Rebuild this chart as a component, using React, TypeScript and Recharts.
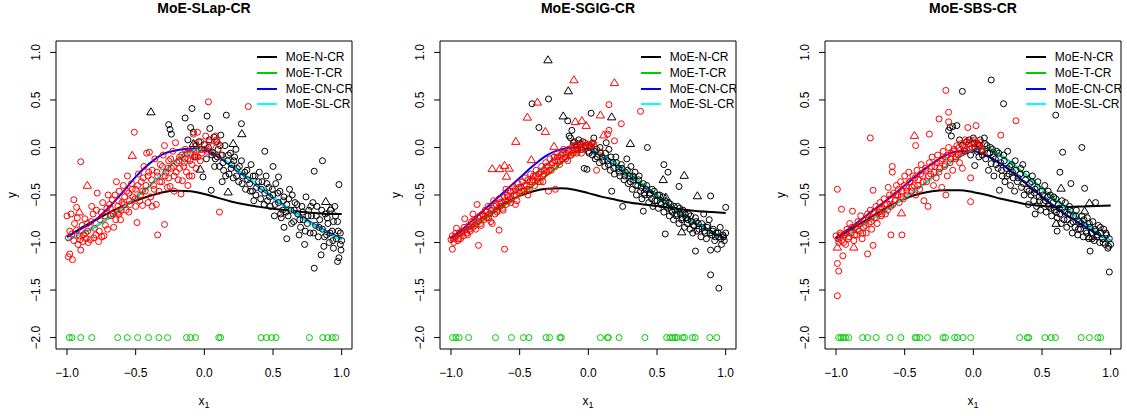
import React from 'react';
import { ComposedChart, Scatter, Line, XAxis, YAxis, ReferenceArea } from 'recharts';

type Pt = [number, number];

const X_TICKS = [-1, -0.5, 0, 0.5, 1];
const Y_TICKS = [1, 0.5, 0, -0.5, -1, -1.5, -2];
const X_GRID = [-1, -0.9, -0.8, -0.7, -0.6, -0.5, -0.4, -0.3, -0.2, -0.1, 0, 0.1, 0.2, 0.3, 0.4, 0.5, 0.6, 0.7, 0.8, 0.9, 1];
const MODELS = ['MoE-N-CR', 'MoE-T-CR', 'MoE-CN-CR', 'MoE-SL-CR'];
const MODEL_COLORS = ['#000000', '#00CD00', '#0000FF', '#00FFFF'];
const TITLES = ['MoE-SLap-CR', 'MoE-SGIG-CR', 'MoE-SBS-CR'];

// ---- panel 1: MoE-SLap-CR ----
const SLAP_N = [-0.94, -0.85, -0.77, -0.69, -0.62, -0.56, -0.51, -0.47, -0.455, -0.46, -0.49, -0.53, -0.57, -0.6, -0.625, -0.645, -0.66, -0.675, -0.69, -0.7, -0.7];
const SLAP_T = [-0.98, -0.91, -0.84, -0.75, -0.65, -0.53, -0.41, -0.27, -0.13, -0.03, -0.01, -0.08, -0.19, -0.3, -0.41, -0.52, -0.63, -0.73, -0.82, -0.9, -0.97];
const SLAP_CN = [-0.94, -0.86, -0.77, -0.64, -0.48, -0.31, -0.17, -0.07, -0.03, -0.01, -0.03, -0.1, -0.2, -0.31, -0.42, -0.53, -0.63, -0.72, -0.81, -0.89, -0.96];
const SLAP_SL = [-0.98, -0.91, -0.83, -0.74, -0.64, -0.52, -0.4, -0.27, -0.14, -0.04, -0.01, -0.08, -0.19, -0.3, -0.41, -0.52, -0.63, -0.73, -0.82, -0.9, -0.97];
const SLAP_RED: Pt[] = [[-1,-0.72],[-0.99,-0.95],[-0.98,-0.88],[-0.98,-1.12],[-0.99,-1.15],[-0.96,-1.18],[-0.97,-0.7],[-0.95,-0.55],[-0.95,-0.98],[-0.93,-0.63],[-0.93,-0.87],[-0.92,-1.02],[-0.91,-0.93],[-0.9,-1.08],[-0.9,-0.15],[-0.89,-0.82],[-0.88,-0.92],[-0.87,-0.75],[-0.86,-0.96],[-0.85,-0.88],[-0.83,-0.97],[-0.82,-0.62],[-0.8,-0.85],[-0.79,-0.92],[-0.78,-0.48],[-0.77,-0.99],[-0.76,-0.76],[-0.75,-0.68],[-0.74,-0.58],[-0.72,-0.82],[-0.71,-0.64],[-0.7,-0.5],[-0.68,-0.72],[-0.67,-0.55],[-0.66,-0.84],[-0.64,-0.36],[-0.63,-0.62],[-0.62,-0.46],[-0.61,-0.76],[-0.6,-0.58],[-0.59,-0.4],[-0.58,-0.52],[-0.57,-0.66],[-0.56,-0.3],[-0.55,-0.48],[-0.54,-0.6],[-0.53,-0.38],[-0.52,-0.52],[-0.51,0.16],[-0.5,-0.44],[-0.49,-0.79],[-0.48,-0.28],[-0.47,-0.56],[-0.46,-0.36],[-0.45,-0.61],[-0.44,-0.2],[-0.43,-0.46],[-0.42,-0.06],[-0.41,-0.3],[-0.4,-0.05],[-0.39,-0.52],[-0.38,-0.24],[-0.37,-0.4],[-0.36,-0.12],[-0.35,-0.6],[-0.34,-0.92],[-0.34,-0.3],[-0.33,-0.46],[-0.32,-0.18],[-0.31,-0.36],[-0.3,-0.08],[-0.29,-0.81],[-0.29,0.02],[-0.28,-0.26],[-0.27,-0.42],[-0.26,-0.14],[-0.25,-0.41],[-0.24,-0.22],[-0.23,-0.04],[-0.22,-0.3],[-0.21,0.05],[-0.2,-0.16],[-0.19,-0.34],[-0.18,-0.1],[-0.17,-0.49],[-0.16,-0.35],[-0.15,-0.2],[-0.14,-0.02],[-0.13,-0.26],[-0.12,-0.12],[-0.11,-0.3],[-0.1,-0.06],[-0.09,-0.18],[-0.08,0.14],[-0.07,-0.08],[-0.06,-0.22],[-0.05,0.16],[-0.04,-0.02],[-0.03,-0.14],[-0.02,-0.06],[0.01,0.12],[0.02,-0.04],[0.03,0.48],[0.05,0.02],[0.08,0.12],[0.1,0.04],[0.11,-0.68],[0.12,-0.08],[0.32,0.43],[-0.85,-0.8],[-0.81,-0.7],[-0.73,-0.93],[-0.69,-0.6],[-0.65,-0.5],[-0.45,-0.46],[-0.5,-0.62],[-0.55,-0.68],[-0.62,-0.7],[-0.41,-0.58],[-0.38,-0.62],[-0.26,-0.32],[-0.22,-0.46],[-0.18,-0.22],[-0.14,-0.12],[-0.09,-0.3],[-0.06,-0.1],[-0.12,-0.4],
  [-0.965,-0.91],[-0.945,-0.8],[-0.925,-0.74],[-0.905,-0.97],[-0.885,-0.99],[-0.865,-0.9],[-0.845,-1.0],[-0.825,-0.78],[-0.805,-0.95],[-0.785,-0.66],[-0.765,-0.88],[-0.745,-0.94],[-0.725,-0.72],[-0.705,-0.86],[-0.685,-0.64],[-0.665,-0.7],[-0.645,-0.76],[-0.625,-0.56],[-0.605,-0.66],[-0.585,-0.6],[-0.565,-0.46],[-0.545,-0.56],[-0.525,-0.44],[-0.505,-0.54],[-0.485,-0.4],[-0.465,-0.5],[-0.445,-0.32],[-0.425,-0.4],[-0.405,-0.26],[-0.385,-0.34],[-0.365,-0.44],[-0.345,-0.26],[-0.325,-0.36],[-0.305,-0.2],[-0.285,-0.3],[-0.265,-0.22],[-0.245,-0.12],[-0.225,-0.2],[-0.205,-0.26],[-0.185,-0.14],[-0.165,-0.08],[-0.145,-0.16],[-0.125,-0.06],[-0.105,-0.14],[-0.085,-0.02],[-0.065,0.04],[-0.045,-0.1],[-0.025,0.06],[0.005,-0.02],[0.035,0.06],[0.065,-0.06],[0.09,0.08]];
const SLAP_BLACK: Pt[] = [[-0.26,0.24],[-0.25,0.19],[-0.24,0.14],[-0.14,0.31],[-0.09,0.41],[-0.12,0.08],[-0.1,0.21],[-0.08,0.16],[-0.06,0.02],[-0.04,0.06],[-0.02,-0.02],[0,0.03],[0.02,0.33],[0.03,0],[0.04,0.2],[0.05,-0.45],[-0.01,-0.31],[0.06,-0.05],[0.07,0.11],[0.08,-0.12],[0.09,0.06],[0.1,-0.02],[0.11,-0.2],[0.12,0.13],[0.13,-0.08],[0.14,-0.24],[0.16,0.34],[0.15,0.02],[0.17,-0.14],[0.18,-0.28],[0.19,-0.06],[0.2,-0.18],[0.21,-0.32],[0.22,-0.1],[0.24,-0.22],[0.25,-0.36],[0.27,0.25],[0.27,-0.14],[0.28,-0.3],[0.3,-0.44],[0.31,-0.24],[0.33,-0.38],[0.34,-0.18],[0.35,-0.46],[0.37,-0.3],[0.38,-0.42],[0.4,-0.26],[0.41,-0.54],[0.42,-0.36],[0.44,-0.04],[0.44,-0.48],[0.45,-0.3],[0.47,-0.42],[0.48,-0.62],[0.5,-0.2],[0.5,-0.5],[0.51,-0.72],[0.52,-0.38],[0.54,-0.31],[0.54,-0.58],[0.55,-0.46],[0.57,-0.66],[0.58,-0.84],[0.58,-0.52],[0.6,-0.96],[0.6,-0.6],[0.61,-0.72],[0.62,-0.44],[0.63,-0.66],[0.65,-0.78],[0.66,-0.58],[0.68,-0.7],[0.7,-0.84],[0.71,-0.62],[0.72,-0.76],[0.73,-1.02],[0.74,-0.52],[0.75,-0.8],[0.76,-0.66],[0.77,-0.9],[0.78,-0.72],[0.8,-1.27],[0.8,-0.25],[0.81,-0.82],[0.82,-0.62],[0.83,-0.94],[0.84,-0.76],[0.85,-1.13],[0.86,-0.14],[0.86,-0.86],[0.87,-1.04],[0.88,-0.7],[0.89,-0.92],[0.9,-0.8],[0.91,-1],[0.92,-0.66],[0.93,-0.88],[0.94,-1.06],[0.95,-0.62],[0.96,-0.96],[0.97,-1.2],[0.97,-0.78],[0.98,-0.39],[0.98,-1.16],[0.99,-1.02],[0.99,-0.9],[1,-0.98],[-0.07,-0.1],[0.13,-0.36],[0.23,-0.02],[0.36,-0.56],[0.46,-0.56],[0.56,-0.74],[0.64,-0.5],[0.69,-0.92],[0.79,-0.58],[0.94,-0.78],
  [0.015,-0.12],[0.035,0.08],[0.055,-0.08],[0.075,-0.2],[0.095,-0.1],[0.115,0.02],[0.135,-0.16],[0.155,-0.3],[0.175,-0.08],[0.195,-0.22],[0.215,-0.14],[0.235,-0.3],[0.255,-0.2],[0.275,-0.38],[0.295,-0.26],[0.315,-0.34],[0.335,-0.46],[0.355,-0.3],[0.375,-0.5],[0.395,-0.36],[0.415,-0.44],[0.435,-0.6],[0.455,-0.38],[0.475,-0.52],[0.495,-0.44],[0.515,-0.6],[0.535,-0.48],[0.555,-0.7],[0.575,-0.56],[0.595,-0.68],[0.615,-0.54],[0.635,-0.8],[0.655,-0.66],[0.675,-0.6],[0.695,-0.76],[0.715,-0.68],[0.735,-0.88],[0.755,-0.72],[0.775,-0.62],[0.795,-0.9],[0.815,-0.72],[0.835,-0.84],[0.855,-0.66],[0.875,-0.94],[0.895,-0.74],[0.915,-0.9],[0.935,-0.98],[0.955,-0.72],[0.975,-0.88],[0.995,-1.08]];
const SLAP_RED_TRI: Pt[] = [[-0.525,-0.085],[-0.852,-0.4],[-0.91,-0.68],[-0.634,-0.68]];
const SLAP_BLACK_TRI: Pt[] = [[-0.389,0.373],[0.273,0.143],[0.21,0.04],[-0.08,0.04],[-0.03,-0.23],[0.173,-0.47],[0.884,-0.57],[0.92,-0.64]];
const SLAP_GREEN = [-0.983, -0.964, -0.9, -0.82, -0.631, -0.561, -0.486, -0.406, -0.331, -0.268, -0.13, -0.1, -0.064, 0.105, 0.118, 0.413, 0.452, 0.489, 0.522, 0.765, 0.862, 0.898, 0.932, 0.956];

// ---- panel 2: MoE-SGIG-CR ----
const SGIG_N = [-0.96, -0.87, -0.77, -0.67, -0.58, -0.51, -0.46, -0.435, -0.43, -0.445, -0.48, -0.52, -0.55, -0.58, -0.6, -0.615, -0.635, -0.655, -0.67, -0.68, -0.69];
const SGIG_T = [-0.99, -0.89, -0.8, -0.7, -0.6, -0.5, -0.4, -0.29, -0.17, -0.05, -0.01, -0.07, -0.17, -0.28, -0.39, -0.5, -0.61, -0.71, -0.81, -0.89, -0.97];
const SGIG_CN = [-0.96, -0.84, -0.71, -0.58, -0.45, -0.32, -0.19, -0.08, -0.02, 0, -0.02, -0.09, -0.19, -0.3, -0.41, -0.52, -0.62, -0.72, -0.81, -0.89, -0.96];
const SGIG_SL = [-0.98, -0.88, -0.77, -0.66, -0.54, -0.42, -0.29, -0.17, -0.07, -0.01, -0.01, -0.08, -0.18, -0.29, -0.4, -0.51, -0.62, -0.72, -0.81, -0.89, -0.97];
const SGIG_RED: Pt[] = [[-1,-0.97],[-0.99,-1.07],[-0.99,-0.93],[-0.98,-1],[-0.97,-0.94],[-0.96,-0.85],[-0.95,-0.98],[-0.94,-0.9],[-0.93,-0.96],[-0.92,-0.88],[-0.91,-0.93],[-0.9,-0.75],[-0.89,-0.86],[-0.88,-0.92],[-0.87,-0.82],[-0.86,-0.88],[-0.85,-0.78],[-0.84,-0.84],[-0.83,-0.76],[-0.82,-0.86],[-0.81,-0.6],[-0.8,-1.03],[-0.8,-0.78],[-0.79,-0.72],[-0.78,-0.82],[-0.77,-0.7],[-0.76,-0.76],[-0.75,-0.66],[-0.74,-0.74],[-0.73,-0.62],[-0.72,-0.7],[-0.71,-0.78],[-0.7,-0.64],[-0.69,-0.56],[-0.68,-0.7],[-0.67,-0.6],[-0.66,-0.66],[-0.65,-0.87],[-0.65,-0.54],[-0.64,-0.62],[-0.63,-0.58],[-0.62,-0.66],[-0.61,-1.07],[-0.61,-0.52],[-0.6,-0.44],[-0.6,-0.6],[-0.59,-0.5],[-0.58,-0.56],[-0.57,-0.46],[-0.56,-0.54],[-0.55,-0.42],[-0.54,-0.5],[-0.53,-0.44],[-0.52,-0.56],[-0.51,-0.38],[-0.5,-0.48],[-0.49,-0.42],[-0.48,-0.36],[-0.47,-0.46],[-0.46,-0.32],[-0.45,-0.4],[-0.44,-0.34],[-0.43,-0.44],[-0.42,-0.28],[-0.41,-0.36],[-0.4,-0.3],[-0.39,-0.4],[-0.38,-0.24],[-0.37,-0.32],[-0.36,-0.28],[-0.35,-0.36],[-0.34,-0.2],[-0.33,-0.3],[-0.32,-0.24],[-0.31,-0.16],[-0.3,-0.26],[-0.29,-0.46],[-0.29,-0.2],[-0.28,-0.12],[-0.27,-0.24],[-0.26,-0.16],[-0.25,-0.1],[-0.24,-0.2],[-0.23,-0.06],[-0.22,-0.14],[-0.21,-0.18],[-0.2,-0.08],[-0.19,-0.12],[-0.18,-0.02],[-0.17,-0.1],[-0.16,-0.06],[-0.15,-0.14],[-0.14,-0.04],[-0.13,-0.08],[-0.12,0],[-0.11,-0.06],[-0.1,-0.02],[-0.09,0.02],[-0.08,-0.04],[-0.06,0],[-0.05,-0.06],[-0.04,0.03],[-0.02,0],[0,0.03],[0.02,0.02],[0.04,0.04],[0.06,-0.24],[0.09,-0.05],[0.14,0.14],[0.15,0.18],[0.15,0.45],[0.19,0.07],[0.24,0.25],[0.38,0.38],[-0.24,-0.44],[-0.33,-0.36],[-0.44,-0.5],[-0.53,-0.6],[-0.7,-0.8],[-0.84,-0.7],
  [-0.985,-0.96],[-0.965,-0.9],[-0.945,-0.96],[-0.925,-0.9],[-0.905,-0.84],[-0.885,-0.9],[-0.865,-0.86],[-0.845,-0.8],[-0.825,-0.82],[-0.805,-0.74],[-0.785,-0.8],[-0.765,-0.72],[-0.745,-0.68],[-0.725,-0.74],[-0.705,-0.66],[-0.685,-0.62],[-0.665,-0.68],[-0.645,-0.58],[-0.625,-0.64],[-0.605,-0.56],[-0.585,-0.52],[-0.565,-0.58],[-0.545,-0.46],[-0.525,-0.5],[-0.505,-0.42],[-0.485,-0.46],[-0.465,-0.4],[-0.445,-0.44],[-0.425,-0.36],[-0.405,-0.34],[-0.385,-0.3],[-0.365,-0.36],[-0.345,-0.26],[-0.325,-0.28],[-0.305,-0.2],[-0.285,-0.24],[-0.265,-0.18],[-0.245,-0.14],[-0.225,-0.1],[-0.205,-0.14],[-0.185,-0.06],[-0.165,-0.12],[-0.145,-0.02],[-0.125,-0.08],[-0.105,0.02],[-0.085,-0.06],[-0.065,0.04],[-0.045,-0.02],[-0.025,0.05],[0.01,0],[0.03,0.05]];
const SGIG_BLACK: Pt[] = [[-0.41,0.46],[-0.29,0.51],[-0.36,0.21],[-0.15,0.28],[-0.14,0.12],[-0.13,0.1],[-0.12,0.18],[-0.11,0.05],[-0.09,0.02],[-0.07,0.08],[-0.05,-0.02],[-0.04,0.06],[-0.03,-0.22],[-0.01,-0.23],[0,-0.04],[0.01,0.02],[0.02,0.36],[0.03,-0.08],[0.04,0.1],[0.05,-0.12],[0.06,-0.02],[0.08,-0.16],[0.09,-0.06],[0.1,-0.1],[0.12,-0.2],[0.13,0.05],[0.14,-0.14],[0.15,-0.02],[0.16,-0.24],[0.17,-0.46],[0.18,-0.16],[0.19,-0.28],[0.2,-0.1],[0.22,-0.22],[0.23,-0.3],[0.24,-0.18],[0.25,-0.62],[0.26,-0.34],[0.27,-0.26],[0.28,-0.12],[0.29,-0.38],[0.3,-0.3],[0.31,-0.2],[0.32,-0.44],[0.33,-0.34],[0.34,-0.26],[0.35,-0.5],[0.36,-0.4],[0.37,-0.3],[0.38,-0.46],[0.39,-0.54],[0.4,-0.67],[0.4,-0.38],[0.41,-0.5],[0.42,-0.44],[0.43,0],[0.44,-0.58],[0.45,-0.48],[0.46,-0.54],[0.47,-0.62],[0.48,-0.46],[0.5,-0.56],[0.51,-0.64],[0.52,-0.5],[0.53,-0.6],[0.55,-0.18],[0.55,-0.68],[0.56,-0.91],[0.56,-0.56],[0.58,-0.26],[0.58,-0.64],[0.59,-0.72],[0.6,-0.6],[0.61,-0.68],[0.62,-0.76],[0.63,-0.66],[0.64,-0.72],[0.65,-0.62],[0.66,-0.41],[0.66,-0.8],[0.67,-0.7],[0.68,-0.76],[0.69,-0.66],[0.7,-0.84],[0.71,-0.74],[0.72,-0.8],[0.73,-0.7],[0.74,-0.86],[0.75,-0.78],[0.76,-0.9],[0.77,-0.82],[0.78,-1.09],[0.78,-0.74],[0.79,-0.88],[0.8,-0.8],[0.82,-0.94],[0.83,-0.84],[0.84,-0.7],[0.85,-0.9],[0.86,-0.96],[0.87,-0.82],[0.88,-0.76],[0.89,-0.51],[0.89,-1.08],[0.89,-1.34],[0.9,-0.92],[0.91,-0.86],[0.92,-0.98],[0.93,-0.9],[0.94,-1.07],[0.95,-1.48],[0.95,-0.94],[0.96,-0.84],[0.97,-1.02],[0.98,-0.92],[0.99,-0.98],[1,-0.63],[1,-0.9],
  [-0.1,0.06],[-0.08,-0.02],[-0.06,0.04],[-0.02,0.02],[0.005,-0.06],[0.025,0.04],[0.045,-0.04],[0.065,-0.1],[0.085,0],[0.105,-0.14],[0.125,-0.06],[0.145,-0.18],[0.165,-0.1],[0.185,-0.22],[0.205,-0.16],[0.225,-0.26],[0.245,-0.22],[0.265,-0.3],[0.285,-0.24],[0.305,-0.36],[0.325,-0.3],[0.345,-0.4],[0.365,-0.34],[0.385,-0.42],[0.405,-0.48],[0.425,-0.4],[0.445,-0.5],[0.465,-0.44],[0.485,-0.56],[0.505,-0.5],[0.525,-0.58],[0.545,-0.52],[0.565,-0.62],[0.585,-0.58],[0.605,-0.66],[0.625,-0.62],[0.645,-0.7],[0.665,-0.64],[0.685,-0.74],[0.705,-0.7],[0.725,-0.76],[0.745,-0.72],[0.765,-0.82],[0.785,-0.78],[0.805,-0.86],[0.825,-0.8],[0.845,-0.88],[0.865,-0.84],[0.885,-0.9],[0.905,-0.88],[0.925,-0.94],[0.945,-0.9],[0.965,-0.96],[0.985,-0.94]];
const SGIG_RED_TRI: Pt[] = [[-0.105,0.71],[0.19,0.68],[-0.371,0.475],[-0.444,0.317],[-0.313,0.167],[-0.528,0.062],[-0.415,-0.13],[-0.25,0.01],[-0.7,-0.225],[-0.645,-0.225],[-0.61,-0.19],[-0.577,-0.22],[-0.596,-0.305],[-0.095,0.27],[-0.047,0.28],[-0.016,0.23],[0.088,0.34],[0.112,0.13]];
const SGIG_BLACK_TRI: Pt[] = [[-0.294,0.92],[-0.146,0.594],[-0.183,0.33],[0.17,0.32],[0.306,0.04],[0.698,-0.295],[0.545,-0.34],[0.794,-0.51],[0.68,-0.89],[0.565,-0.525]];
const SGIG_GREEN = [-0.988, -0.964, -0.94, -0.872, -0.676, -0.56, -0.473, -0.432, -0.308, -0.282, -0.207, -0.197, 0.088, 0.139, 0.146, 0.224, 0.412, 0.57, 0.594, 0.613, 0.63, 0.647, 0.686, 0.7, 0.758, 0.778, 0.884, 0.935];

// ---- panel 3: MoE-SBS-CR ----
const SBS_N = [-0.96, -0.87, -0.78, -0.69, -0.61, -0.54, -0.49, -0.46, -0.45, -0.45, -0.47, -0.5, -0.54, -0.57, -0.6, -0.615, -0.625, -0.625, -0.62, -0.615, -0.61];
const SBS_T = [-0.99, -0.9, -0.81, -0.72, -0.63, -0.53, -0.43, -0.32, -0.2, -0.09, -0.02, -0.01, -0.08, -0.19, -0.31, -0.43, -0.55, -0.67, -0.78, -0.89, -0.99];
const SBS_CN = [-0.95, -0.85, -0.74, -0.63, -0.52, -0.4, -0.28, -0.17, -0.08, -0.04, -0.04, -0.09, -0.17, -0.28, -0.4, -0.52, -0.63, -0.73, -0.82, -0.91, -0.98];
const SBS_SL = [-0.99, -0.9, -0.81, -0.72, -0.63, -0.53, -0.43, -0.32, -0.2, -0.1, -0.03, -0.02, -0.09, -0.2, -0.32, -0.44, -0.56, -0.67, -0.78, -0.89, -0.99];
const SBS_RED: Pt[] = [[-1,-0.93],[-0.99,-0.44],[-0.99,-1.22],[-0.98,-1.3],[-0.99,-1.56],[-0.98,-1],[-0.97,-0.9],[-0.96,-0.65],[-0.96,-0.98],[-0.95,-1.14],[-0.94,-0.92],[-0.93,-1.02],[-0.92,-0.86],[-0.91,-0.96],[-0.9,-0.8],[-0.89,-0.9],[-0.88,-0.67],[-0.87,-0.98],[-0.86,-0.84],[-0.85,-0.92],[-0.84,-0.78],[-0.83,-0.88],[-0.82,-0.72],[-0.81,-0.96],[-0.8,-0.84],[-0.79,-0.76],[-0.78,-0.9],[-0.77,-1.12],[-0.77,-0.7],[-0.76,-0.8],[-0.75,0.1],[-0.75,-0.66],[-0.74,-0.86],[-0.73,-0.45],[-0.73,-1.03],[-0.72,-0.74],[-0.71,-0.62],[-0.7,-0.8],[-0.69,-0.68],[-0.68,-0.58],[-0.67,-0.72],[-0.66,-0.64],[-0.65,-0.54],[-0.64,-0.7],[-0.63,-0.6],[-0.62,-0.42],[-0.61,-0.5],[-0.6,-0.92],[-0.6,-0.62],[-0.59,-0.2],[-0.59,-0.26],[-0.58,-0.48],[-0.57,-0.56],[-0.56,-0.4],[-0.55,-0.5],[-0.54,-0.58],[-0.53,-0.36],[-0.52,-0.92],[-0.52,-0.46],[-0.51,-0.54],[-0.5,-0.3],[-0.49,-0.42],[-0.48,-0.5],[-0.47,-0.26],[-0.46,-0.36],[-0.45,-0.46],[-0.44,-0.3],[-0.43,-0.4],[-0.42,0.02],[-0.42,-0.5],[-0.41,-0.24],[-0.4,-0.34],[-0.39,-0.44],[-0.38,-0.18],[-0.37,-0.3],[-0.36,-0.56],[-0.35,-0.22],[-0.34,-0.36],[-0.33,-0.62],[-0.32,0.14],[-0.32,-0.16],[-0.31,-0.28],[-0.3,-0.1],[-0.29,-0.4],[-0.28,-0.2],[-0.27,-0.32],[-0.26,-0.08],[-0.25,0.3],[-0.25,-0.26],[-0.24,-0.14],[-0.23,-0.42],[-0.22,-0.04],[-0.21,-0.2],[-0.2,0.6],[-0.2,-0.5],[-0.2,-0.1],[-0.19,-0.3],[-0.18,0.37],[-0.18,0.27],[-0.18,0],[-0.17,-0.16],[-0.16,-0.06],[-0.15,-0.24],[-0.14,-0.02],[-0.13,-0.12],[-0.12,0.02],[-0.11,-0.08],[-0.1,-0.16],[-0.09,0.04],[-0.08,-0.22],[-0.07,-0.04],[-0.06,0.08],[-0.05,-0.02],[-0.04,0.21],[-0.03,0.04],[-0.02,-0.57],[-0.02,-0.32],[-0.01,0],[0,0.06],[0.02,0.23],[0.03,0.02],[0.05,0.05],[0.07,-0.04],[0.2,0.13],[0.31,0.28],
  [-0.985,-0.96],[-0.965,-0.92],[-0.945,-1.0],[-0.925,-0.9],[-0.905,-0.94],[-0.885,-0.84],[-0.865,-0.92],[-0.845,-0.86],[-0.825,-0.8],[-0.805,-0.9],[-0.785,-0.82],[-0.765,-0.74],[-0.745,-0.78],[-0.725,-0.68],[-0.705,-0.74],[-0.685,-0.64],[-0.665,-0.7],[-0.645,-0.6],[-0.625,-0.66],[-0.605,-0.54],[-0.585,-0.6],[-0.565,-0.5],[-0.545,-0.44],[-0.525,-0.52],[-0.505,-0.4],[-0.485,-0.46],[-0.465,-0.36],[-0.445,-0.42],[-0.425,-0.32],[-0.405,-0.4],[-0.385,-0.28],[-0.365,-0.36],[-0.345,-0.24],[-0.325,-0.3],[-0.305,-0.2],[-0.285,-0.26],[-0.265,-0.16],[-0.245,-0.22],[-0.225,-0.12],[-0.205,-0.18],[-0.185,-0.08],[-0.165,-0.12],[-0.145,-0.04],[-0.125,-0.1],[-0.105,0],[-0.085,-0.06],[-0.065,0.02],[-0.045,0.06],[-0.025,-0.02],[0.01,0.08],[0.04,0.02],[0.06,-0.02]];
const SBS_BLACK: Pt[] = [[-0.18,0.18],[-0.17,0.21],[-0.16,0.12],[-0.15,0.22],[-0.12,0.23],[-0.1,0.08],[-0.08,0.59],[-0.08,0.02],[-0.06,-0.04],[-0.05,0.06],[-0.03,0.08],[-0.02,-0.08],[0,0.1],[0.01,-0.19],[0.01,0],[0.03,0.04],[0.04,-0.1],[0.05,0.08],[0.06,-0.04],[0.08,0.1],[0.09,-0.12],[0.1,0.02],[0.11,-0.24],[0.12,-0.06],[0.13,0.71],[0.13,-0.17],[0.14,-0.02],[0.15,-0.3],[0.16,-0.12],[0.17,-0.04],[0.18,-0.22],[0.19,-0.45],[0.2,-0.16],[0.21,-0.3],[0.22,0.46],[0.22,-0.08],[0.23,-0.36],[0.24,-0.22],[0.25,-0.04],[0.26,-0.28],[0.27,-0.4],[0.28,-0.18],[0.29,-0.32],[0.3,-0.46],[0.31,-0.24],[0.32,-0.36],[0.34,-0.28],[0.35,-0.42],[0.36,-0.18],[0.37,-0.5],[0.38,-0.34],[0.39,-0.44],[0.4,-0.6],[0.41,-0.38],[0.42,-0.5],[0.43,-0.3],[0.44,-0.56],[0.45,-0.7],[0.45,-0.44],[0.46,-0.62],[0.47,-0.36],[0.48,-0.52],[0.49,-0.66],[0.5,-0.46],[0.51,-0.58],[0.52,-0.4],[0.53,-0.68],[0.54,-0.52],[0.55,-0.62],[0.56,-0.5],[0.57,-0.72],[0.58,-0.58],[0.59,-0.66],[0.6,0.34],[0.6,-0.54],[0.61,-0.88],[0.61,-0.74],[0.62,-0.6],[0.63,-0.26],[0.63,-0.7],[0.64,-0.8],[0.65,-0.05],[0.65,-0.64],[0.66,-0.76],[0.67,-0.58],[0.68,-0.84],[0.69,-0.7],[0.7,-0.62],[0.71,-0.38],[0.71,-0.8],[0.72,-0.9],[0.73,-0.72],[0.74,-0.84],[0.75,-0.66],[0.76,-0.92],[0.77,-0.78],[0.78,-0.86],[0.79,0],[0.79,-0.72],[0.8,-0.94],[0.81,-0.43],[0.81,-0.82],[0.82,-0.88],[0.83,-0.74],[0.84,-0.96],[0.85,-1.09],[0.85,-0.84],[0.86,-0.9],[0.87,-0.78],[0.88,-0.98],[0.89,-0.58],[0.89,-0.88],[0.9,-0.94],[0.91,-0.82],[0.92,-1],[0.93,-0.9],[0.94,-0.96],[0.95,-0.86],[0.96,-1.02],[0.97,-0.92],[0.98,-1.06],[0.99,-1.31],[0.99,-0.96],[1,-1.02],
  [0.005,0.04],[0.025,-0.04],[0.045,0.02],[0.065,-0.08],[0.085,0.04],[0.105,-0.06],[0.125,0],[0.145,-0.1],[0.165,-0.18],[0.185,-0.06],[0.205,-0.24],[0.225,-0.14],[0.245,-0.3],[0.265,-0.2],[0.285,-0.26],[0.305,-0.14],[0.325,-0.32],[0.345,-0.22],[0.365,-0.38],[0.385,-0.28],[0.405,-0.46],[0.425,-0.36],[0.445,-0.48],[0.465,-0.42],[0.485,-0.56],[0.505,-0.5],[0.525,-0.56],[0.545,-0.46],[0.565,-0.64],[0.585,-0.52],[0.605,-0.68],[0.625,-0.64],[0.645,-0.56],[0.665,-0.68],[0.685,-0.76],[0.705,-0.66],[0.725,-0.78],[0.745,-0.72],[0.765,-0.86],[0.785,-0.8],[0.805,-0.76],[0.825,-0.9],[0.845,-0.8],[0.865,-0.96],[0.885,-0.86],[0.905,-0.92],[0.925,-0.84],[0.945,-1.0],[0.965,-0.9],[0.985,-1.04]];
const SBS_RED_TRI: Pt[] = [[-0.429,0.125],[-0.99,-1.05],[-0.87,-1.05],[-0.523,-0.69]];
const SBS_BLACK_TRI: Pt[] = [[0.603,-0.8],[0.639,-0.43],[0.845,-0.585],[0.845,-0.94],[0.81,-0.67]];
const SBS_GREEN = [-0.981, -0.964, -0.947, -0.93, -0.908, -0.806, -0.77, -0.707, -0.608, -0.528, -0.424, -0.412, -0.39, -0.334, -0.22, -0.203, -0.136, -0.116, -0.075, -0.019, 0.337, 0.392, 0.404, 0.521, 0.567, 0.598, 0.785, 0.845, 0.906, 0.927];

const GREEN_Y = -2;
const X_DOMAIN: [number, number] = [-1.08, 1.075];
const Y_DOMAIN: [number, number] = [-2.12, 1.12];

const PANELS = [
  { title: TITLES[0], left: 0, lines: [SLAP_N, SLAP_T, SLAP_CN, SLAP_SL], red: SLAP_RED, black: SLAP_BLACK, redTri: SLAP_RED_TRI, blackTri: SLAP_BLACK_TRI, green: SLAP_GREEN },
  { title: TITLES[1], left: 384, lines: [SGIG_N, SGIG_T, SGIG_CN, SGIG_SL], red: SGIG_RED, black: SGIG_BLACK, redTri: SGIG_RED_TRI, blackTri: SGIG_BLACK_TRI, green: SGIG_GREEN },
  { title: TITLES[2], left: 769, lines: [SBS_N, SBS_T, SBS_CN, SBS_SL], red: SBS_RED, black: SBS_BLACK, redTri: SBS_RED_TRI, blackTri: SBS_BLACK_TRI, green: SBS_GREEN },
];

const FONT = '"Liberation Sans", Arial, Helvetica, sans-serif';
const W = 360;
const H = 416;
const MARGIN = { top: 41, right: 8, bottom: 7, left: 0 };
const Y_AXIS_W = 56;
const X_AXIS_H = 60;

const toObjs = (pts: Pt[]) => pts.map(([x, y]) => ({ x, y }));

const circleShape = (color: string) => (props: any) => (
  <circle cx={props.cx} cy={props.cy} r={3} fill="none" stroke={color} strokeWidth={1} />
);

const triShape = (color: string) => (props: any) => {
  const { cx, cy } = props;
  return (
    <polygon
      points={`${cx},${cy - 4.2} ${cx - 4.2},${cy + 2.8} ${cx + 4.2},${cy + 2.8}`}
      fill="none"
      stroke={color}
      strokeWidth={1}
    />
  );
};

const XTick = (props: any) => (
  <text x={props.x} y={props.y} dy="0.71em" textAnchor="middle" fontSize={12} fontFamily={FONT} fill="#000">
    {props.payload.value.toFixed(1).replace('-', '\u2212')}
  </text>
);

const YTick = (props: any) => {
  const x = props.x - 8;
  return (
    <text x={x} y={props.y} transform={`rotate(-90, ${x}, ${props.y})`} textAnchor="middle" fontSize={12} fontFamily={FONT} fill="#000">
      {props.payload.value.toFixed(1).replace('-', '\u2212')}
    </text>
  );
};

const Panel: React.FC<{ p: typeof PANELS[number] }> = ({ p }) => {
  const boxLeft = MARGIN.left + Y_AXIS_W;
  const boxRight = W - MARGIN.right;
  return (
    <div style={{ position: 'absolute', left: p.left, top: 0, width: W, height: H }}>
      <div
        style={{
          position: 'absolute', top: 1, left: boxLeft, width: boxRight - boxLeft, textAlign: 'center',
          fontFamily: FONT, fontWeight: 'bold', fontSize: 14, lineHeight: '14px', color: '#000',
        }}
      >
        {p.title}
      </div>
      <ComposedChart width={W} height={H} margin={MARGIN}>
        <XAxis
          type="number"
          dataKey="x"
          domain={X_DOMAIN}
          allowDataOverflow
          ticks={X_TICKS}
          axisLine={false}
          tickLine={{ stroke: '#000' }}
          tickSize={6}
          tickMargin={13}
          tick={<XTick />}
          height={X_AXIS_H}
          label={{
            content: ({ viewBox }: any) => (
              <text x={viewBox.x + viewBox.width / 2} y={viewBox.y + 56} textAnchor="middle" fontSize={12} fontFamily={FONT} fill="#000">
                x<tspan dy={3} fontSize={9}>1</tspan>
              </text>
            ),
          }}
        />
        <YAxis
          type="number"
          dataKey="y"
          domain={Y_DOMAIN}
          allowDataOverflow
          ticks={Y_TICKS}
          axisLine={false}
          tickLine={{ stroke: '#000' }}
          tickSize={6}
          tickMargin={2}
          tick={<YTick />}
          width={Y_AXIS_W}
          label={{
            content: () => (
              <text x={16} y={195} transform="rotate(-90, 16, 195)" textAnchor="middle" fontSize={12} fontFamily={FONT} fill="#000">
                y
              </text>
            ),
          }}
        />
        <ReferenceArea x1={X_DOMAIN[0]} x2={X_DOMAIN[1]} y1={Y_DOMAIN[0]} y2={Y_DOMAIN[1]} fill="none" stroke="#000" strokeWidth={1} ifOverflow="visible" />
        <Scatter data={toObjs(p.black)} shape={circleShape('#000000')} isAnimationActive={false} />
        <Scatter data={toObjs(p.red)} shape={circleShape('#FF0000')} isAnimationActive={false} />
        <Scatter data={toObjs(p.blackTri)} shape={triShape('#000000')} isAnimationActive={false} />
        <Scatter data={toObjs(p.redTri)} shape={triShape('#FF0000')} isAnimationActive={false} />
        <Scatter data={p.green.map((x) => ({ x, y: GREEN_Y }))} shape={circleShape('#00CD00')} isAnimationActive={false} />
        {p.lines.map((vals, i) => (
          <Line
            key={MODELS[i]}
            data={X_GRID.map((x, j) => ({ x, y: vals[j] }))}
            dataKey="y"
            type="monotone"
            stroke={MODEL_COLORS[i]}
            strokeWidth={2}
            dot={false}
            activeDot={false}
            isAnimationActive={false}
          />
        ))}
      </ComposedChart>
      <div style={{ position: 'absolute', left: boxRight - 95.5, top: 49.5, width: 95.5, overflow: 'hidden' }}>
        {MODELS.map((m, i) => (
          <div key={m} style={{ display: 'flex', alignItems: 'center', height: 15.67, whiteSpace: 'nowrap' }}>
            <div style={{ width: 20, height: 2, background: MODEL_COLORS[i], flex: 'none' }} />
            <span style={{ marginLeft: 9.3, fontFamily: FONT, fontSize: 12, color: '#000' }}>{m}</span>
          </div>
        ))}
      </div>
    </div>
  );
};

export default function App() {
  return (
    <div style={{ position: 'absolute', left: 0, top: 0, width: 1127, height: 416, overflow: 'hidden', background: '#fff' }}>
      {PANELS.map((p) => (
        <Panel key={p.title} p={p} />
      ))}
    </div>
  );
}
